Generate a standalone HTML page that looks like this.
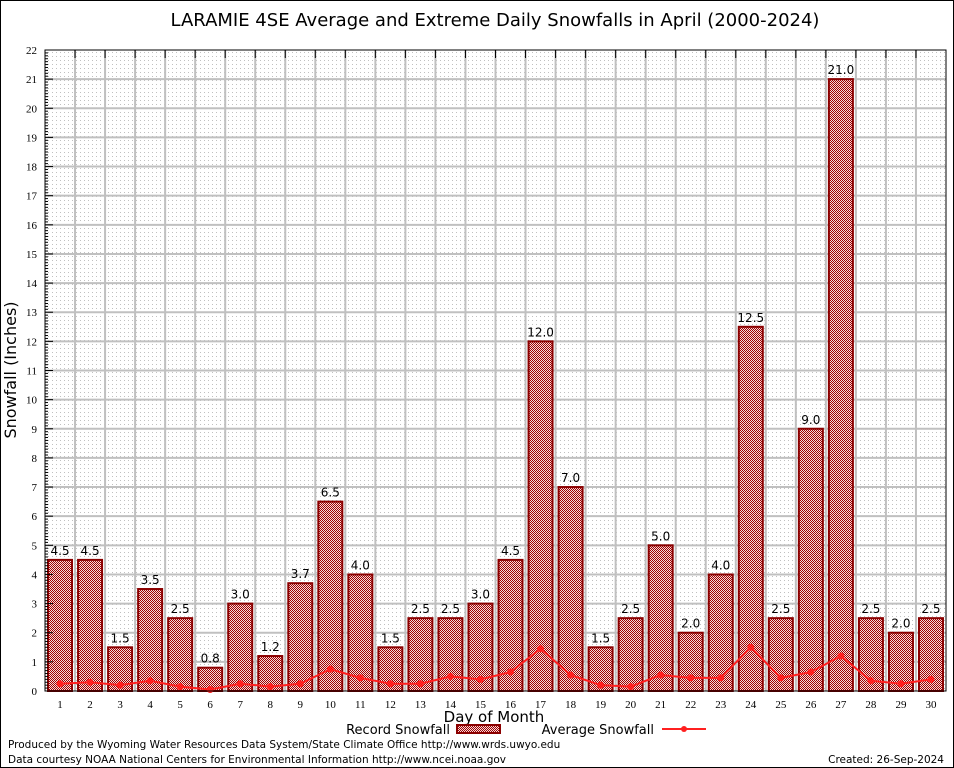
<!DOCTYPE html>
<html><head><meta charset="utf-8"><style>
body{margin:0;background:#fff}
svg{display:block;font-family:"DejaVu Sans","Liberation Sans",sans-serif}
</style></head><body>
<svg id="c" width="954" height="768" viewBox="0 0 954 768">
<defs>
<pattern id="dots" width="4" height="4" patternUnits="userSpaceOnUse"><rect x="0" y="0" width="1" height="1" fill="#c0c0c0"/></pattern>
<pattern id="chk" width="2" height="2" patternUnits="userSpaceOnUse"><rect width="2" height="2" fill="#f4dcdc"/><rect width="1" height="1" fill="#a00000"/><rect x="1" y="1" width="1" height="1" fill="#a00000"/></pattern>
</defs>
<rect x="0.5" y="0.5" width="953" height="767" fill="#fff" stroke="#000"/>
<text x="495" y="26" font-size="18" text-anchor="middle">LARAMIE 4SE Average and Extreme Daily Snowfalls in April (2000-2024)</text>
<rect x="45" y="50" width="901" height="641" fill="url(#dots)"/>
<g id="grid"></g><g id="bars"></g><g id="line"></g><g id="axes"></g>
<rect x="45" y="50" width="901" height="641" fill="none" stroke="#000"/>
<text transform="translate(16,370) rotate(-90)" font-size="16" text-anchor="middle">Snowfall (Inches)</text>
<text x="494" y="722" font-size="15" text-anchor="middle">Day of Month</text>
<g>
<text x="450" y="734" font-size="13" text-anchor="end">Record Snowfall</text>
<rect x="457" y="725" width="43" height="8" fill="url(#chk)" stroke="#8b0000" stroke-width="2"/>
<text x="654" y="734" font-size="13" text-anchor="end">Average Snowfall</text>
<line x1="662" y1="729" x2="706" y2="729" stroke="#ff2020" stroke-width="2"/>
<circle cx="684" cy="729" r="3" fill="#ff2020"/>
</g>
<text x="8" y="748" font-size="10.5">Produced by the Wyoming Water Resources Data System/State Climate Office http://www.wrds.uwyo.edu</text>
<text x="8" y="763" font-size="10.5">Data courtesy NOAA National Centers for Environmental Information http://www.ncei.noaa.gov</text>
<text x="944" y="763" font-size="10.5" text-anchor="end">Created: 26-Sep-2024</text>
</svg>
<script>
const days=[1,2,3,4,5,6,7,8,9,10,11,12,13,14,15,16,17,18,19,20,21,22,23,24,25,26,27,28,29,30];
const records=[4.5,4.5,1.5,3.5,2.5,0.8,3.0,1.2,3.7,6.5,4.0,1.5,2.5,2.5,3.0,4.5,12.0,7.0,1.5,2.5,5.0,2.0,4.0,12.5,2.5,9.0,21.0,2.5,2.0,2.5];
const averages=[0.25,0.3,0.2,0.35,0.15,0.05,0.25,0.15,0.25,0.75,0.45,0.25,0.25,0.5,0.4,0.65,1.45,0.55,0.2,0.15,0.55,0.45,0.45,1.5,0.45,0.65,1.2,0.35,0.25,0.4];
const yTicks=[0,1,2,3,4,5,6,7,8,9,10,11,12,13,14,15,16,17,18,19,20,21,22];
const NS='http://www.w3.org/2000/svg';
const L=45,R=946,T=50,B=691,ymax=22;
const xs=d=>L+(d-0.5)*(R-L)/30;
const ys=v=>B-v*(B-T)/ymax;
function mk(tag,attrs,parent,txt){const e=document.createElementNS(NS,tag);for(const k in attrs)e.setAttribute(k,attrs[k]);if(txt!==undefined)e.textContent=txt;document.getElementById(parent).appendChild(e);return e;}
yTicks.forEach(v=>{
  const y=ys(v);
  if(v>0&&v<ymax){const g=mk('line',{x1:L,x2:R,y1:y,y2:y,stroke:'#c0c0c0','stroke-width':2},'grid');
  
  }
  const tk=mk('line',{x1:L,x2:L+8,y1:y,y2:y,stroke:'#000'},'axes');
  
  
  const t=mk('text',{x:L-8,y:y+4,'font-size':11,'text-anchor':'end','font-family':'Liberation Serif, serif'},'axes',v);
  
  
  if(v<ymax){for(let i=1;i<10;i++){const yy=ys(v+i/10);const m=mk('line',{x1:L,x2:L+3,y1:yy,y2:yy,stroke:'#000'},'axes');
  
  }}
});
for(let i=1;i<30;i++){const x=xs(i+0.5);const g=mk('line',{x1:x,x2:x,y1:T,y2:B,stroke:'#c0c0c0','stroke-width':2},'grid');
  
  
  const tk=mk('line',{x1:x,x2:x,y1:T,y2:T+8,stroke:'#000'},'axes');
  
  }
days.forEach((d,i)=>{
  const x=xs(d),v=records[i],y=ys(v);
  const r=mk('rect',{x:x-12,y:y,width:24,height:B-y,fill:'url(#chk)',stroke:'#8b0000','stroke-width':2},'bars');
  
  
  const t=mk('text',{x:x,y:y-5,'font-size':12,'text-anchor':'middle'},'bars',v.toFixed(1));
  
  
  const xl=mk('text',{x:x,y:B+17,'font-size':11,'text-anchor':'middle','font-family':'Liberation Serif, serif'},'axes',d);
  
  
});
const pts=days.map((d,i)=>xs(d)+','+ys(averages[i])).join(' ');
const pl=mk('polyline',{points:pts,fill:'none',stroke:'#ff2020','stroke-width':2},'line');


days.forEach((d,i)=>{const c=mk('circle',{cx:xs(d),cy:ys(averages[i]),r:3.5,fill:'#ff2020'},'line');
  
  });
</script>
</body></html>
